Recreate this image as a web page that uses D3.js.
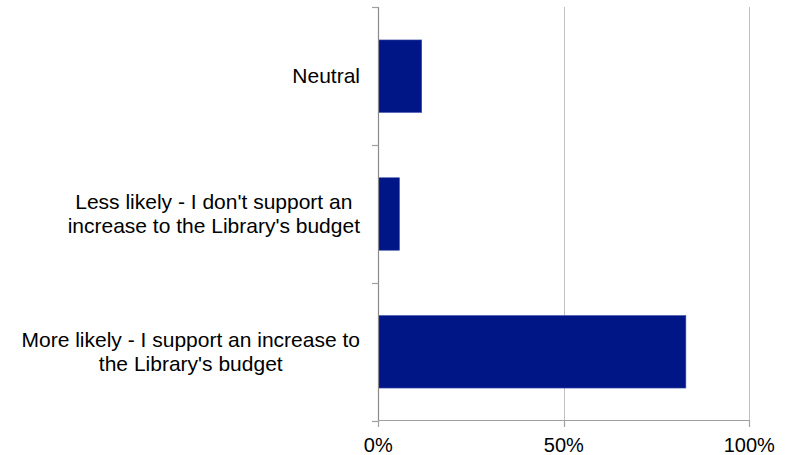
<!DOCTYPE html>
<html><head><meta charset="utf-8">
<script src="https://cdn.jsdelivr.net/npm/d3@7"></script>
<style>html,body{margin:0;padding:0;background:#fff;}svg{display:block;}</style>
</head><body>
<svg id="chart" width="794" height="455"></svg>
<script>
const categories = [
  "Neutral",
  "Less likely - I don't support an increase to the Library's budget",
  "More likely - I support an increase to the Library's budget"
];
const labelLines = [
  ["Neutral"],
  ["Less likely - I don't support an", "increase to the Library's budget"],
  ["More likely - I support an increase to", "the Library's budget"]
];
const values = [0.117, 0.057, 0.829];
const xTicks = [0, 0.5, 1];
const xTickLabels = ["0%", "50%", "100%"];

const svg = d3.select("#chart");
const font = "'Liberation Sans', Arial, sans-serif";
const x = d3.scaleLinear().domain([0, 1]).range([378.3, 749.3]);
const y = d3.scaleBand().domain(categories).range([7.3, 420.7]).paddingInner(0.474).paddingOuter(0.237);

// gridlines
svg.append("g").selectAll("line").data(xTicks.slice(1)).join("line")
  .attr("x1", d => Math.round(x(d)) + 0.5).attr("x2", d => Math.round(x(d)) + 0.5)
  .attr("y1", 7).attr("y2", 427)
  .attr("stroke", "#c0c0c0").attr("stroke-width", 1);

// bars
svg.append("g").selectAll("rect").data(values).join("rect")
  .attr("x", x(0)).attr("y", (d, i) => y(categories[i]))
  .attr("width", d => x(d) - x(0)).attr("height", y.bandwidth())
  .attr("fill", "#001687").attr("stroke", "#3a4fa8").attr("stroke-width", 0.6);

// y axis
const yBounds = [7.3].concat(categories.map(c => y(c) + y.bandwidth() + y.step() * y.paddingInner() / 2));
yBounds[yBounds.length - 1] = 420.7;
const ax = svg.append("g");
ax.append("line").attr("x1", 378.5).attr("x2", 378.5).attr("y1", 7).attr("y2", 421)
  .attr("stroke", "#8a8a8a").attr("stroke-width", 1.2);
ax.selectAll("line.yt").data(yBounds).join("line").attr("class", "yt")
  .attr("x1", 372).attr("x2", 378.5)
  .attr("y1", d => Math.round(d) + 0.5).attr("y2", d => Math.round(d) + 0.5)
  .attr("stroke", "#a0a0a0").attr("stroke-width", 1.2);

// x axis
ax.append("line").attr("x1", 378).attr("x2", 749.5).attr("y1", 420.5).attr("y2", 420.5)
  .attr("stroke", "#a0a0a0").attr("stroke-width", 1.2);
ax.selectAll("line.xt").data(xTicks).join("line").attr("class", "xt")
  .attr("x1", d => Math.round(x(d)) + 0.5).attr("x2", d => Math.round(x(d)) + 0.5)
  .attr("y1", 420.5).attr("y2", 427)
  .attr("stroke", "#a0a0a0").attr("stroke-width", 1.2);
ax.selectAll("text.xl").data(xTicks).join("text").attr("class", "xl")
  .attr("x", d => x(d)).attr("y", 451.5)
  .attr("text-anchor", "middle").attr("font-family", font).attr("font-size", 20)
  .attr("fill", "#000").text((d, i) => xTickLabels[i]);

// category labels
const lg = svg.append("g");
categories.forEach((c, i) => {
  const lines = labelLines[i];
  const cy = y(c) + y.bandwidth() / 2;
  const g = lg.append("g");
  const texts = lines.map((t, j) => g.append("text")
    .attr("y", cy + 7 + (j - (lines.length - 1) / 2) * 24)
    .attr("font-family", font).attr("font-size", 21).attr("fill", "#000")
    .attr("text-anchor", "middle").text(t));
  const w = d3.max(texts, t => t.node().getComputedTextLength());
  texts.forEach(t => t.attr("x", 360 - w / 2));
});
</script>
</body></html>
